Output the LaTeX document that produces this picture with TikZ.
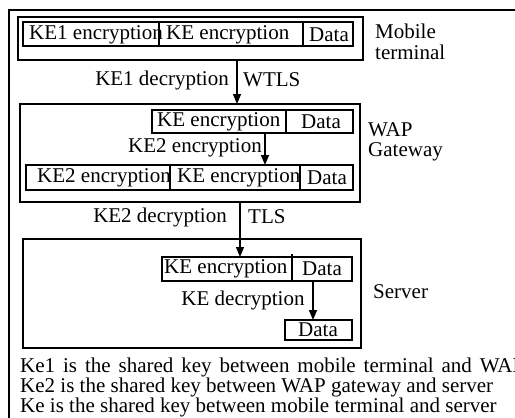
\documentclass[tikz,border=0pt]{standalone}
\usepackage{fontspec}
\setmainfont{Liberation Serif}
\usetikzlibrary{arrows.meta}
\begin{document}
\begin{tikzpicture}[x=1pt,y=-1pt,
  frame/.style={draw, line width=1.6pt, inner sep=0pt, outer sep=0pt, anchor=north west},
  cell/.style={draw, line width=1.3pt, inner sep=0pt, outer sep=0pt, anchor=north west},
  txt/.style={inner sep=0pt, font=\fontsize{21}{25}\selectfont},
  lgd/.style={inner sep=0pt, anchor=west, font=\fontsize{21}{25}\selectfont},
  arr/.style={line width=1.3pt, -{Triangle[length=10pt,width=8pt]}}]
\useasboundingbox (0,0) rectangle (515,418);
\clip (0,0) rectangle (515,418);
% outer frame
\node[frame, minimum width=540pt, minimum height=440pt] (outer) at (9,10) {};
% Mobile terminal
\node[frame, minimum width=345pt, minimum height=43pt] (mob) at (18,17) {};
\node[cell, minimum width=136pt, minimum height=24pt] (m1) at (23,22) {};
\node[cell, minimum width=144pt, minimum height=24pt] (m2) at (159,22) {};
\node[cell, minimum width=50pt, minimum height=24pt] (m3) at (303,22) {};
\node[txt, anchor=west] (m1t) at (29,35) {KE1 encryption};
\node[txt, anchor=west] (m2t) at (166,35) {KE encryption};
\node[txt] (m3t) at (329,35) {Data};
\node[txt, anchor=west] (mobl1) at (375,31) {Mobile};
\node[txt, anchor=west] (mobl2) at (375,52) {terminal};
% WAP gateway
\node[frame, minimum width=340pt, minimum height=98pt] (wap) at (20,104) {};
\node[cell, minimum width=134pt, minimum height=23pt] (w1) at (152,110) {};
\node[cell, minimum width=67pt, minimum height=23pt] (w2) at (286,110) {};
\node[txt, anchor=west] (w1t) at (157,122) {KE encryption};
\node[txt] (w2t) at (321,122) {Data};
\node[txt] (w2enc) at (195,148) {KE2 encryption};
\node[cell, minimum width=144pt, minimum height=25pt] (w3) at (26,165) {};
\node[cell, minimum width=130pt, minimum height=25pt] (w4) at (170,165) {};
\node[cell, minimum width=53pt, minimum height=25pt] (w5) at (300,165) {};
\node[txt, anchor=west] (w3t) at (37,178) {KE2 encryption};
\node[txt, anchor=west] (w4t) at (177,178) {KE encryption};
\node[txt] (w5t) at (327,178) {Data};
\node[txt, anchor=west] (wapl1) at (368,130) {WAP};
\node[txt, anchor=west] (wapl2) at (368,152) {Gateway};
% Server
\node[frame, minimum width=338pt, minimum height=109pt] (srv) at (23,239) {};
\node[cell, minimum width=130pt, minimum height=24pt] (s1) at (162,257) {};
\node[cell, minimum width=60pt, minimum height=24pt] (s2) at (292,257) {};
\draw[line width=1.3pt] (s2.north west) -- ++(0,-3);
\node[txt, anchor=west] (s1t) at (164,269) {KE encryption};
\node[txt] (s2t) at (322,269) {Data};
\node[txt] (sdec) at (243,300) {KE decryption};
\node[cell, minimum width=67pt, minimum height=20pt] (s3) at (285,320) {};
\node[txt] (s3t) at (318,330) {Data};
\node[txt, anchor=west] (srvl) at (373,292) {Server};
% arrows and labels
\coordinate (a1) at (237,0);
\coordinate (a2) at (265,0);
\coordinate (a3) at (240,0);
\coordinate (a4) at (313,0);
\draw[arr] (a1 |- mob.south) -- (a1 |- wap.north);
\node[txt, anchor=east] (dec1) at (229,80) {KE1 decryption};
\node[txt, anchor=west] (wtls) at (243,80) {WTLS};
\draw[arr] (a2 |- w1.south) -- (a2 |- w3.north);
\draw[arr] (a3 |- wap.south) -- (a3 |- s1.north);
\node[txt, anchor=east] (dec2) at (227,217) {KE2 decryption};
\node[txt, anchor=west] (tls) at (248,217) {TLS};
\draw[arr] (a4 |- s2.south) -- (a4 |- s3.north);
% legend
\node[lgd] (l1) at (20,367) {\makebox[504pt][s]{Ke1 is the shared key between mobile terminal and WAP}};
\node[lgd] (l2) at (20,387) {Ke2 is the shared key between WAP gateway and server};
\node[lgd] (l3) at (20,407) {Ke is the shared key between mobile terminal and server};
\end{tikzpicture}
\end{document}
